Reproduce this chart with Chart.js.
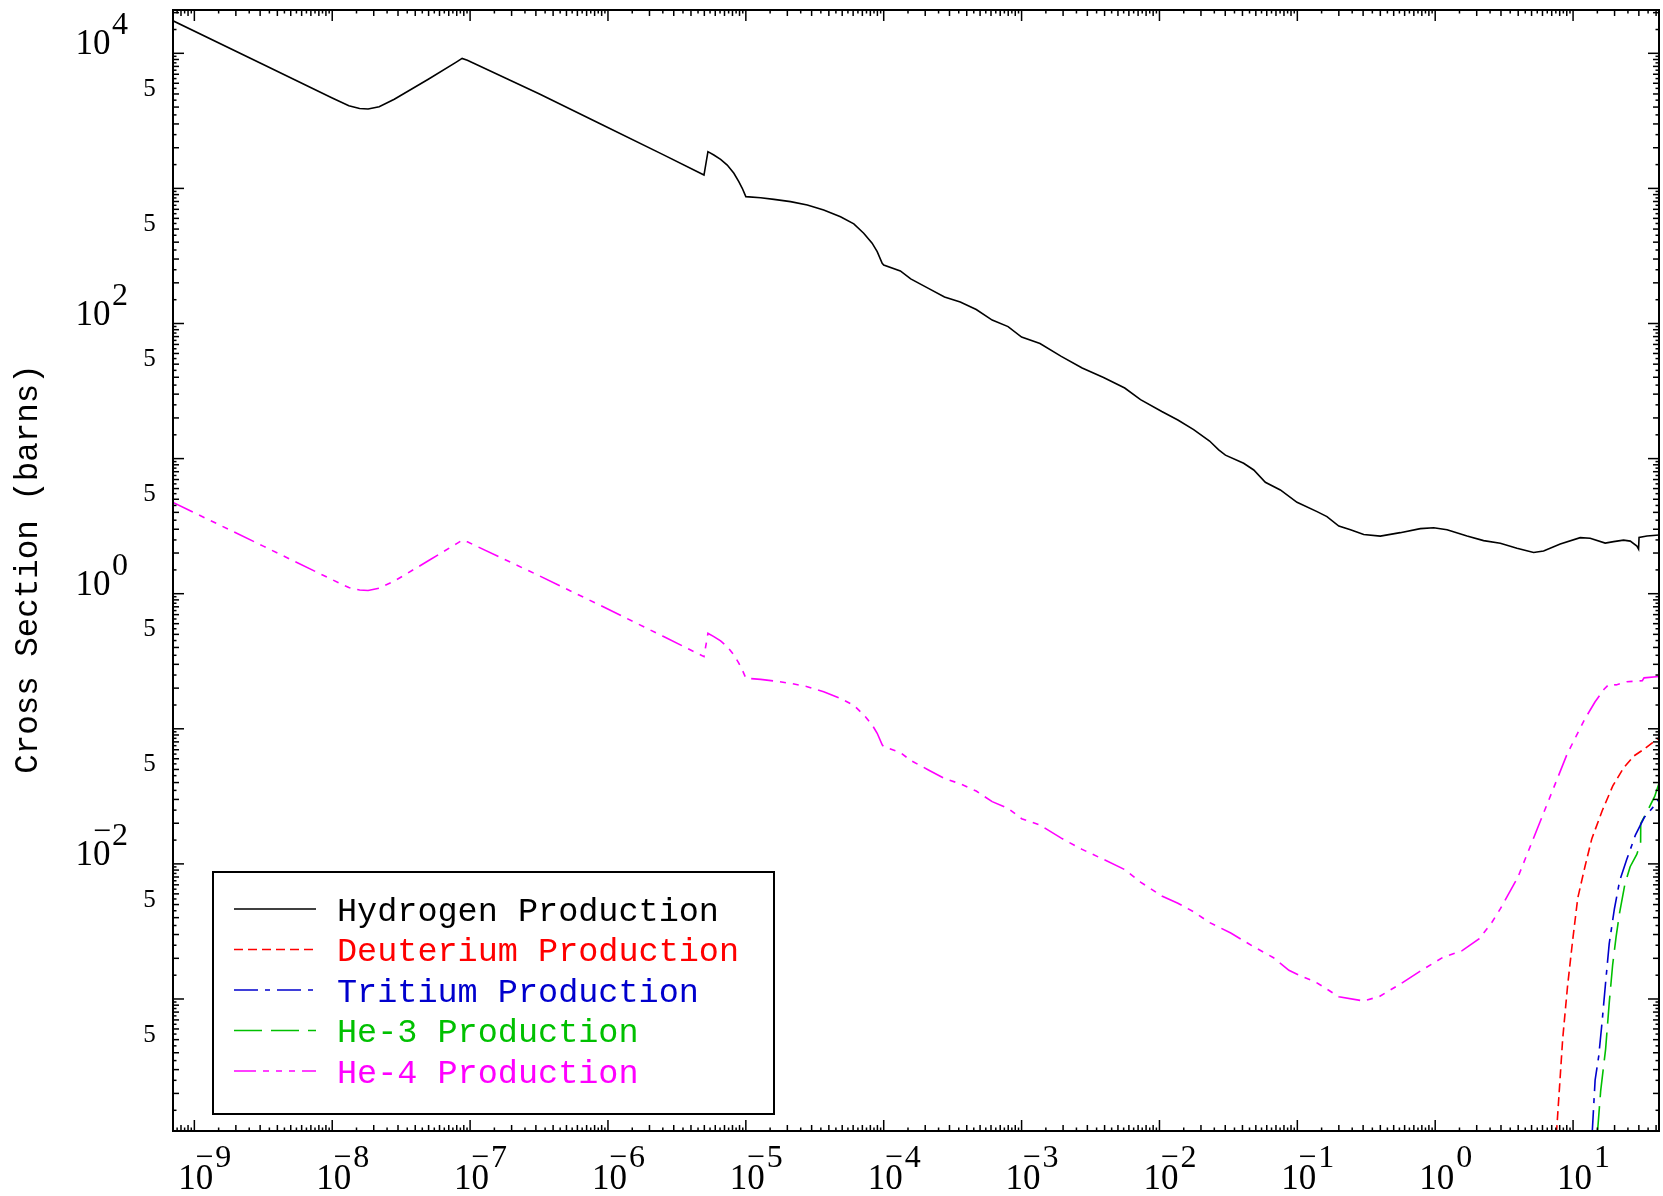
<!DOCTYPE html>
<html>
<head>
<meta charset="utf-8">
<title>Cross Section</title>
<script src="https://cdn.jsdelivr.net/npm/chart.js@4.4.1/dist/chart.umd.min.js"></script>
<style>
  html, body { margin: 0; padding: 0; background: #ffffff; }
  canvas { display: block; }
</style>
</head>
<body>
<canvas id="my-chart" width="1663" height="1196"></canvas>
<script>
// energies and cross sections
const hydrogenE = [7.0e-10, 3.16e-9, 1.0e-8, 1.32e-8, 1.58e-8, 1.82e-8, 2.19e-8, 2.82e-8, 5.01e-8, 7.94e-8,
   8.75e-8, 9.55e-8, 3.16e-7, 8.85e-7, 2.51e-6, 4.97e-6, 5.31e-6, 5.86e-6, 6.56e-6, 7.33e-6,
   8.19e-6, 8.89e-6, 9.42e-6, 1.0e-5, 1.28e-5, 1.60e-5, 2.11e-5, 2.79e-5, 3.67e-5, 4.86e-5,
   6.07e-5, 7.16e-5, 8.24e-5, 8.97e-5, 9.75e-5, 1.0e-4, 1.32e-4, 1.57e-4, 2.11e-4,
   2.76e-4, 3.59e-4, 4.69e-4, 6.12e-4, 7.98e-4, 1.0e-3, 1.36e-3, 1.94e-3, 2.75e-3, 3.93e-3,
   5.60e-3, 7.29e-3, 1.04e-2, 1.36e-2, 1.77e-2, 2.31e-2, 2.69e-2, 3.01e-2, 4.08e-2, 4.83e-2,
   5.86e-2, 7.53e-2, 0.0995, 0.139, 0.164, 0.200, 0.243, 0.303, 0.400, 0.558,
   0.780, 0.975, 1.219, 1.702, 2.244, 2.965, 3.917, 5.176, 6.109, 8.072,
   11.27, 13.30, 17.10, 19.68, 23.23, 26.00, 29.04, 29.85, 30.1, 34.36, 42.2];
const hydrogenXS = [17400, 8260, 4667, 4093, 3908, 3873, 4027, 4571, 6457, 8610,
   9162, 8872, 5012, 2999, 1778, 1256, 1871, 1767, 1641, 1489,
   1294, 1122, 1002, 869, 853, 830, 798, 754, 692, 617,
   546, 466, 393, 340, 279, 271, 245, 214, 182,
   157, 144, 127, 106, 94.8, 79.3, 71.1, 57.1, 46.9, 39.8,
   33.3, 27.3, 22.3, 19.3, 16.4, 13.5, 11.6, 10.6, 9.23, 8.24,
   6.68, 5.86, 4.75, 4.05, 3.72, 3.17, 2.97, 2.74, 2.67, 2.83,
   3.03, 3.08, 2.97, 2.67, 2.47, 2.36, 2.17, 2.02, 2.07, 2.33,
   2.60, 2.57, 2.37, 2.43, 2.49, 2.45, 2.25, 2.14, 2.61, 2.67, 2.72];

const deuteriumE = [7.57, 7.94, 8.41, 9.12, 9.93, 10.81, 12.19, 13.68, 16.29, 19.41, 23.12, 27.54, 32.81, 42.2];
const deuteriumXS = [1.0e-4, 2.08e-4, 5.09e-4, 1.247e-3, 2.716e-3, 5.572e-3, 9.53e-3, 1.538e-2, 2.483e-2,
   3.776e-2, 5.093e-2, 6.281e-2, 7.079e-2, 8.61e-2];

const tritiumE = [13.75, 14.45, 15.35, 16.26, 17.22, 18.28, 19.95, 21.78, 24.49, 28.31, 32.81, 39.08, 42.2];
const tritiumXS = [1.0e-4, 2.51e-4, 3.78e-4, 6.87e-4, 1.324e-3, 2.559e-3, 4.656e-3, 7.516e-3, 1.076e-2,
   1.633e-2, 2.203e-2, 2.716e-2, 3.055e-2];

const he3E = [15.0, 15.85, 17.22, 18.28, 19.36, 20.51, 21.78, 23.77, 25.94, 28.97, 30.9, 30.95, 34.75, 39.08, 42.2];
const he3XS = [1.0e-4, 2.08e-4, 4.26e-4, 9.27e-4, 1.786e-3, 2.884e-3, 4.385e-3, 7.079e-3, 9.53e-3,
   1.175e-2, 1.429e-2, 1.995e-2, 2.483e-2, 3.155e-2, 4.009e-2];

const he4E = [7.0e-10, 3.16e-9, 1.0e-8, 1.32e-8, 1.58e-8, 1.82e-8, 2.19e-8, 2.82e-8, 5.01e-8, 7.94e-8,
   8.75e-8, 9.55e-8, 3.16e-7, 8.85e-7, 2.51e-6, 4.97e-6, 5.31e-6, 5.86e-6, 6.56e-6, 7.33e-6,
   8.19e-6, 8.89e-6, 9.42e-6, 1.0e-5, 1.28e-5, 1.60e-5, 2.11e-5, 2.79e-5, 3.67e-5, 4.86e-5,
   6.07e-5, 7.16e-5, 8.24e-5, 8.97e-5, 9.75e-5, 1.0e-4, 1.32e-4, 1.57e-4, 2.11e-4,
   2.76e-4, 3.59e-4, 4.69e-4, 6.12e-4, 7.98e-4, 1.0e-3, 1.36e-3, 1.94e-3, 2.75e-3, 3.93e-3,
   5.60e-3, 7.29e-3, 1.04e-2, 1.36e-2, 1.77e-2, 2.31e-2, 3.29e-2, 4.68e-2, 6.67e-2, 8.69e-2,
   0.104, 0.135, 0.200, 0.301, 0.392, 0.558, 0.796, 1.135, 1.560, 2.089,
   2.564, 2.972, 3.981, 5.035, 6.745, 9.036, 12.13, 14.45, 16.71, 18.24,
   20.51, 24.49, 31.77, 32.73, 42.2];
const he4XS = [4.74, 2.25, 1.27, 1.11, 1.064, 1.055, 1.10, 1.24, 1.76, 2.34,
   2.49, 2.42, 1.36, 0.817, 0.484, 0.342, 0.509, 0.481, 0.447, 0.405,
   0.352, 0.306, 0.273, 0.237, 0.232, 0.226, 0.217, 0.205, 0.188, 0.168,
   0.149, 0.127, 0.107, 0.0926, 0.0760, 0.0738, 0.0667, 0.0583, 0.0496,
   0.0428, 0.0392, 0.0346, 0.0289, 0.0258, 0.0216, 0.0194, 0.0155, 0.0128, 0.0108,
   0.00907, 0.00733, 0.00579, 0.00511, 0.00442, 0.00368, 0.00308, 0.00248, 0.00203, 0.00163,
   0.00149, 0.00134, 0.00104, 0.000968, 0.00104, 0.00129, 0.00163, 0.00203, 0.00227, 0.00280,
   0.00366, 0.00466, 0.00798, 0.0145, 0.0306, 0.0647, 0.1175, 0.1585, 0.1954, 0.2138,
   0.2113, 0.2228, 0.2270, 0.2382, 0.2438];

const seriesLabels = ['Hydrogen Production', 'Deuterium Production', 'Tritium Production', 'He-3 Production', 'He-4 Production'];
const seriesColors = ['#000000', '#ff0000', '#0000cd', '#00c000', '#ff00ff'];
const seriesDashes = [[], [9, 5], [24, 7, 5, 7], [28, 9], [22, 7, 6, 7, 6, 7, 6, 7]];

// axis ticks and labels
const xLabelExps = [-9, -8, -7, -6, -5, -4, -3, -2, -1, 0, 1];
const yLabelExps = [4, 2, 0, -2];
const yFiveValues = [5e3, 5e2, 50, 5, 0.5, 0.05, 0.005, 5e-4];
const tickSteps = [1, 1.5, 2, 2.5, 3, 3.5, 4, 4.5, 5, 5.5, 6, 6.5, 7, 7.5, 8, 8.5, 9, 9.5];

function pairUp(xs, ys) {
   return xs.map((x, i) => ({ x: x, y: ys[i] }));
}

const allSeries = [
   pairUp(hydrogenE, hydrogenXS),
   pairUp(deuteriumE, deuteriumXS),
   pairUp(tritiumE, tritiumXS),
   pairUp(he3E, he3XS),
   pairUp(he4E, he4XS)
];

const serif = '"Liberation Serif", "DejaVu Serif", serif';
const mono = '"Liberation Mono", "DejaVu Sans Mono", monospace';

// draws frame, inward ticks on all four sides, tick labels, y title and legend
const axisDecor = {
   id: 'axisDecor',
   afterDatasetsDraw(chart) {
      const { ctx, chartArea: area } = chart;
      const xs = chart.scales.x;
      const ys = chart.scales.y;
      ctx.save();

      // legend
      ctx.fillStyle = '#ffffff';
      ctx.fillRect(213, 872, 561, 242);
      ctx.strokeStyle = '#000000';
      ctx.lineWidth = 2;
      ctx.setLineDash([]);
      ctx.strokeRect(213, 872, 561, 242);
      chart.data.datasets.forEach((ds, i) => {
         const cy = 909 + i * 40.5;
         ctx.strokeStyle = ds.borderColor;
         ctx.lineWidth = 1.6;
         ctx.setLineDash(ds.borderDash);
         ctx.beginPath();
         ctx.moveTo(234, cy);
         ctx.lineTo(316, cy);
         ctx.stroke();
         ctx.setLineDash([]);
         ctx.fillStyle = ds.borderColor;
         ctx.font = '33.5px ' + mono;
         ctx.textAlign = 'left';
         ctx.textBaseline = 'alphabetic';
         ctx.fillText(ds.label, 337, cy + 11.5);
      });

      // frame
      ctx.strokeStyle = '#000000';
      ctx.lineWidth = 2;
      ctx.strokeRect(area.left, area.top, area.right - area.left, area.bottom - area.top);

      // ticks
      ctx.lineWidth = 1.5;
      const seg = (x1, y1, x2, y2) => {
         ctx.beginPath();
         ctx.moveTo(x1, y1);
         ctx.lineTo(x2, y2);
         ctx.stroke();
      };
      for (let e = -10; e <= 4; e++) {
         for (const m of tickSteps) {
            const v = m * Math.pow(10, e);
            const len = m === 1 ? 11 : (m % 1 === 0 ? 6 : 3.5);
            if (v >= xs.min && v <= xs.max) {
               const px = xs.getPixelForValue(v);
               seg(px, area.bottom, px, area.bottom - len);
               seg(px, area.top, px, area.top + len);
            }
            if (v >= ys.min && v <= ys.max) {
               const py = ys.getPixelForValue(v);
               seg(area.left, py, area.left + len, py);
               seg(area.right, py, area.right - len, py);
            }
         }
      }

      ctx.fillStyle = '#000000';
      ctx.textBaseline = 'alphabetic';

      // x labels
      xLabelExps.forEach(p => {
         const px = xs.getPixelForValue(Math.pow(10, p));
         ctx.font = '35px ' + serif;
         ctx.textAlign = 'center';
         ctx.fillText('10', px + 1.5, 1188.5);
         ctx.font = '32px ' + serif;
         ctx.textAlign = 'left';
         ctx.fillText(String(Math.abs(p)), px + 21, 1167);
         if (p < 0) {
            ctx.font = '32px ' + serif;
            ctx.textAlign = 'right';
            ctx.fillText('\u2212', px + 19, 1166.5);
         }
      });

      // y labels
      yLabelExps.forEach(p => {
         const py = ys.getPixelForValue(Math.pow(10, p));
         ctx.font = '35px ' + serif;
         ctx.textAlign = 'right';
         ctx.fillText('10', 110.5, py + 1);
         ctx.font = '32px ' + serif;
         ctx.textAlign = 'left';
         ctx.fillText(String(Math.abs(p)), 112, py - 19);
         if (p < 0) {
            ctx.font = '32px ' + serif;
            ctx.textAlign = 'right';
            ctx.fillText('\u2212', 111, py - 22.5);
         }
      });
      yFiveValues.forEach(v => {
         const py = ys.getPixelForValue(v);
         ctx.font = '25px ' + serif;
         ctx.textAlign = 'center';
         ctx.fillText('5', 149.5, py + 2);
      });

      // y title
      ctx.save();
      ctx.translate(36.5, 569);
      ctx.rotate(-Math.PI / 2);
      ctx.font = '32.5px ' + mono;
      ctx.textAlign = 'center';
      ctx.fillText('Cross Section (barns)', 0, 0);
      ctx.restore();

      ctx.restore();
   }
};

const ctx = document.getElementById('my-chart').getContext('2d');

const chart = new Chart(ctx, {
   type: 'line',
   data: {
      datasets: allSeries.map((pts, i) => ({
         label: seriesLabels[i],
         data: pts,
         borderColor: seriesColors[i],
         backgroundColor: seriesColors[i],
         borderDash: seriesDashes[i],
         borderWidth: 1.6,
         pointRadius: 0,
         tension: 0,
         fill: false
      }))
   },
   options: {
      responsive: false,
      animation: false,
      devicePixelRatio: 1,
      layout: { padding: { left: 173, top: 10, right: 4, bottom: 65 } },
      plugins: {
         legend: { display: false },
         tooltip: { enabled: false }
      },
      scales: {
         x: { type: 'logarithmic', min: 7.1e-10, max: 42, display: false },
         y: { type: 'logarithmic', min: 1.054e-4, max: 2.092e4, display: false }
      }
   },
   plugins: [axisDecor]
}); // closes chart
</script>
</body>
</html>
